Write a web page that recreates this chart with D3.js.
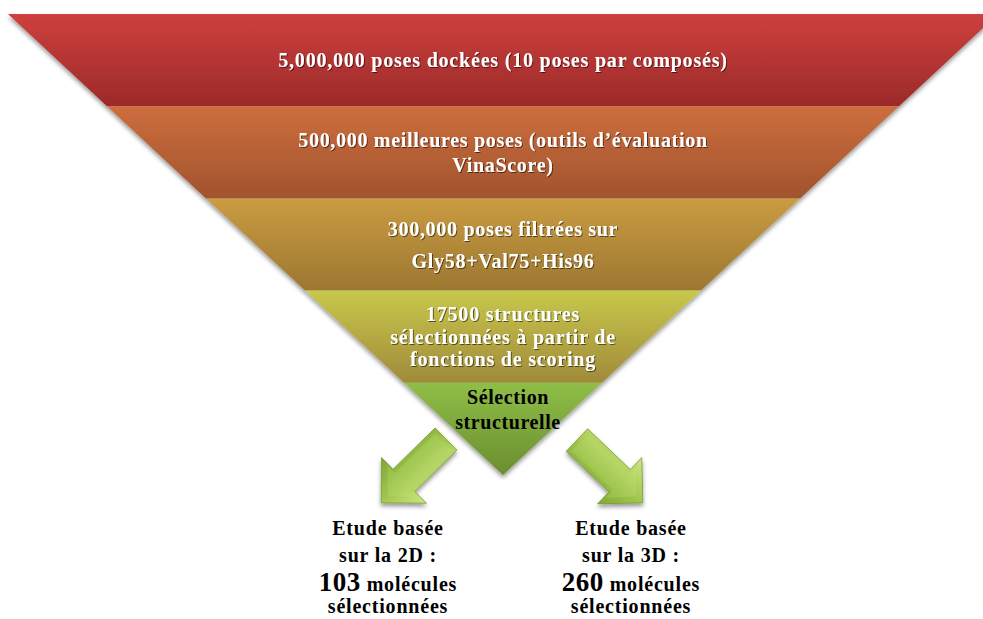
<!DOCTYPE html>
<meta charset="utf-8">
<script src="https://d3js.org/d3.v7.min.js"></script>
<style>
  body { margin: 0; background: #fff; }
  text { font-family: "Liberation Serif", "Times New Roman", serif; font-weight: bold; }
</style>
<div id="funnel"></div>
<script>

// stages of the screening funnel, top to bottom
var stageLines = [
  ["5,000,000 poses dockées (10 poses par composés)"],
  ["500,000 meilleures poses (outils d’évaluation", "VinaScore)"],
  ["300,000 poses filtrées sur", "Gly58+Val75+His96"],
  ["17500 structures", "sélectionnées à partir de", "fonctions de scoring"],
  ["Sélection", "structurelle"]
];
var stageTop    = ["#cd403d", "#cd6e3e", "#ca9c42", "#c8c84b", "#8fbe47"];
var stageBottom = ["#9c2a29", "#a1532d", "#9c7731", "#a08a3a", "#6a8e30"];
var stageInk    = ["#fff", "#fff", "#fff", "#fff", "#000"];

// the two outcomes of the structural selection
var outcomeDims   = ["2D", "3D"];
var outcomeCounts = [103, 260];

var W = 983, H = 619, cx = 503;

var svg = d3.select("#funnel").append("svg")
  .attr("width", W).attr("height", H);

var defs = svg.append("defs");

var shadow = defs.append("filter").attr("id", "shadow")
  .attr("x", "-10%").attr("y", "-10%").attr("width", "120%").attr("height", "130%");
shadow.append("feDropShadow").attr("dx", 0).attr("dy", 3)
  .attr("stdDeviation", 2).attr("flood-color", "#000").attr("flood-opacity", 0.4);

var txtShadow = defs.append("filter").attr("id", "txtShadow");
txtShadow.append("feDropShadow").attr("dx", 1).attr("dy", 1)
  .attr("stdDeviation", 0.7).attr("flood-color", "#000").attr("flood-opacity", 0.55);

stageTop.forEach(function(c, i) {
  var g = defs.append("linearGradient").attr("id", "band" + i)
    .attr("x1", 0).attr("y1", 0).attr("x2", 0).attr("y2", 1);
  g.append("stop").attr("offset", "0%").attr("stop-color", c);
  g.append("stop").attr("offset", "100%").attr("stop-color", stageBottom[i]);
});

// funnel geometry: stage index -> y, stage index -> half width
var n = stageLines.length;
var y = d3.scaleLinear().domain([0, n]).range([14, 475]);
var halfW = d3.scaleLinear().domain([0, n]).range([495, 0]);

var bands = svg.append("g").attr("filter", "url(#shadow)");
bands.selectAll("path")
  .data(stageLines)
  .enter().append("path")
    .attr("fill", function(d, i) { return "url(#band" + i + ")"; })
    .attr("d", function(d, i) {
      var p = d3.path();
      p.moveTo(cx - halfW(i), y(i));
      p.lineTo(cx + halfW(i), y(i));
      p.lineTo(cx + halfW(i + 1), y(i + 1));
      p.lineTo(cx - halfW(i + 1), y(i + 1));
      p.closePath();
      return p.toString();
    });

// text layout inside each band
var lineGap  = [0, 25, 32, 22.5, 25];
var midShift = [0, 0, 0, 0, -19];
var xShift   = [0, 0, 0, 0, 5];
var spacing  = [0.8, 0.7, 0.7, 0.8, 0.6];

stageLines.forEach(function(lines, i) {
  var mid = (y(i) + y(i + 1)) / 2 + midShift[i];
  var first = mid - lineGap[i] * (lines.length - 1) / 2;
  svg.append("g")
    .attr("filter", i < 4 ? "url(#txtShadow)" : null)
    .selectAll("text")
    .data(lines)
    .enter().append("text")
      .attr("x", cx + xShift[i])
      .attr("y", function(d, j) { return first + j * lineGap[i] + 7; })
      .attr("text-anchor", "middle")
      .attr("font-size", 20)
      .attr("letter-spacing", spacing[i])
      .attr("fill", stageInk[i])
      .text(function(d) { return d; });
});

// green arrows
var ag = defs.append("linearGradient").attr("id", "arrowFill")
  .attr("x1", 0).attr("y1", 0).attr("x2", 0).attr("y2", 1);
ag.append("stop").attr("offset", "0%").attr("stop-color", "#cfe788");
ag.append("stop").attr("offset", "45%").attr("stop-color", "#a6ca52");
ag.append("stop").attr("offset", "100%").attr("stop-color", "#7fa535");

var hi = defs.append("linearGradient").attr("id", "arrowFace")
  .attr("x1", 0).attr("y1", 0).attr("x2", 0).attr("y2", 1);
hi.append("stop").attr("offset", "0%").attr("stop-color", "#c2df74");
hi.append("stop").attr("offset", "100%").attr("stop-color", "#96bf45");

var arrowL = 91, shaftW = 15.5, headW = 32, headL = 32;
function arrowShape(k) {
  // k shrinks the outline to draw the inner (bevelled) face
  return [
    [k, -shaftW + k], [arrowL - headL + k * 0.4, -shaftW + k], [arrowL - headL + k * 0.4, -headW + k * 2.4],
    [arrowL - k * 2.4, 0],
    [arrowL - headL + k * 0.4, headW - k * 2.4], [arrowL - headL + k * 0.4, shaftW - k], [k, shaftW - k]
  ];
}
var arrows = [
  {tail: [446, 439], tip: [381, 503]},
  {tail: [577, 440], tip: [643, 503]}
];
var ar = svg.append("g").attr("filter", "url(#shadow)")
  .selectAll("g")
  .data(arrows)
  .enter().append("g")
    .attr("transform", function(d) {
      var a = Math.atan2(d.tip[1] - d.tail[1], d.tip[0] - d.tail[0]) * 180 / Math.PI;
      return "translate(" + d.tail + ") rotate(" + a + ")";
    });
ar.append("path")
  .attr("d", d3.line()(arrowShape(0)) + "Z")
  .attr("fill", "url(#arrowFill)")
  .attr("stroke", "#7a9e33")
  .attr("stroke-width", 0.8);
ar.append("path")
  .attr("d", d3.line()(arrowShape(4)) + "Z")
  .attr("fill", "url(#arrowFace)")
  .attr("opacity", 0.85);

// outcome captions
var colX = [388, 631];
outcomeDims.forEach(function(dim, i) {
  var g = svg.append("g").attr("text-anchor", "middle").attr("fill", "#000")
    .attr("font-size", 20).attr("letter-spacing", 0.8);
  g.append("text").attr("x", colX[i]).attr("y", 535).text("Etude basée");
  g.append("text").attr("x", colX[i]).attr("y", 562).text("sur la " + dim + " :");
  var t = g.append("text").attr("x", colX[i]).attr("y", 591);
  t.append("tspan").attr("font-size", 27).attr("letter-spacing", 0.5).text(outcomeCounts[i]);
  t.append("tspan").text(" molécules");
  g.append("text").attr("x", colX[i]).attr("y", 613).text("sélectionnées");
});

</script>
